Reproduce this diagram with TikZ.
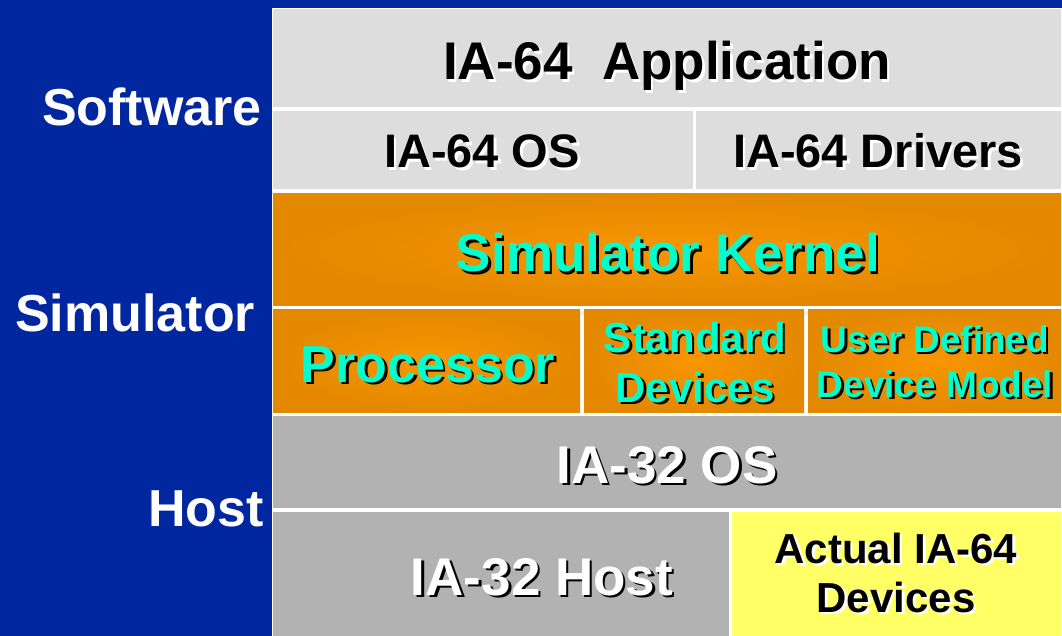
\documentclass[tikz,border=0pt]{standalone}
\usepackage{fontspec}
\setmainfont{Liberation Sans}
\definecolor{bgblue}{RGB}{0,38,160}
\definecolor{swgray}{RGB}{221,221,221}
\definecolor{hostgray}{RGB}{178,178,178}
\definecolor{kernlight}{RGB}{248,150,0}
\definecolor{kerndark}{RGB}{228,136,0}
\definecolor{devyellow}{RGB}{255,255,102}
\definecolor{simcyan}{RGB}{0,255,204}
% text with a small offset drop shadow: {text colour}{shadow colour}{text}
\newcommand\shtext[3]{\makebox[0pt][l]{\kern2.5pt\raisebox{-2.5pt}{\textcolor{#2}{#3}}}\textcolor{#1}{#3}}
\tikzset{
  box/.style={rectangle, inner sep=0pt, outer sep=0pt, anchor=north west, draw=none},
  kernbox/.style={box, shading=radial, inner color=kernlight, outer color=kerndark},
  lbl/.style={inner sep=0pt, anchor=base, font=\fontsize{#1}{#1}\selectfont\bfseries},
  side/.style={inner sep=0pt, anchor=base west, text=white, font=\fontsize{52}{52}\selectfont\bfseries}
}
\begin{document}
\begin{tikzpicture}[x=1pt, y=-1pt]
\useasboundingbox (0,0) rectangle (1062,636);
\fill[bgblue] (0,0) rectangle (1062,636);
\fill[white] (272,8) rectangle (1062,636);

% layer labels
\node[side] (lsw) at (42,126) {Software};
\node[side] (lsim) at (15,331) {Simulator};
\node[side] (lhost) at (148,526) {Host};

% software layer
\node[box, fill=swgray, minimum width=788pt, minimum height=98pt] (app) at (273,9) {};
\node[box, fill=swgray, minimum width=420pt, minimum height=78pt] (os64) at (273,111) {};
\node[box, fill=swgray, minimum width=365pt, minimum height=78pt] (drv) at (696,111) {};

% simulator layer
\node[kernbox, minimum width=788pt, minimum height=111pt] (kern) at (273,194) {};
\node[kernbox, minimum width=307pt, minimum height=103pt] (proc) at (273,309) {};
\node[kernbox, minimum width=220pt, minimum height=103pt] (std) at (584,309) {};
\node[kernbox, minimum width=253pt, minimum height=103pt] (usr) at (808,309) {};

% host layer
\node[box, fill=hostgray, minimum width=788pt, minimum height=92pt] (os32) at (273,416) {};
\node[box, fill=hostgray, minimum width=456pt, minimum height=124pt] (host) at (273,512) {};
\node[box, fill=devyellow, minimum width=329pt, minimum height=124pt] (dev) at (732,512) {};

% box texts
\node[lbl=53] (tapp) at (667,80) {\shtext{black}{white}{IA-64\ \ Application}};
\node[lbl=47] (tos64) at (482,168) {\shtext{black}{white}{IA-64 OS}};
\node[lbl=47] (tdrv) at (878,168) {\shtext{black}{white}{IA-64 Drivers}};
\node[lbl=53] (tkern) at (668,272) {\shtext{simcyan}{black}{Simulator Kernel}};
\node[lbl=52] (tproc) at (428,382) {\shtext{simcyan}{black}{Processor}};
\node[lbl=42] (tstd1) at (695,352) {\shtext{simcyan}{black}{Standard}};
\node[lbl=42] (tstd2) at (695,402) {\shtext{simcyan}{black}{Devices}};
\node[lbl=37] (tusr1) at (935,352) {\shtext{simcyan}{black}{User Defined}};
\node[lbl=37] (tusr2) at (935,397) {\shtext{simcyan}{black}{Device Model}};
\node[lbl=53] (tos32) at (667,483) {\shtext{white}{black}{IA-32 OS}};
\node[lbl=53] (thost) at (542,595) {\shtext{white}{black}{IA-32 Host}};
\node[lbl=42] (tdev1) at (896,563) {\shtext{black}{white}{Actual IA-64}};
\node[lbl=42] (tdev2) at (896,612) {\shtext{black}{white}{Devices}};
\end{tikzpicture}
\end{document}
